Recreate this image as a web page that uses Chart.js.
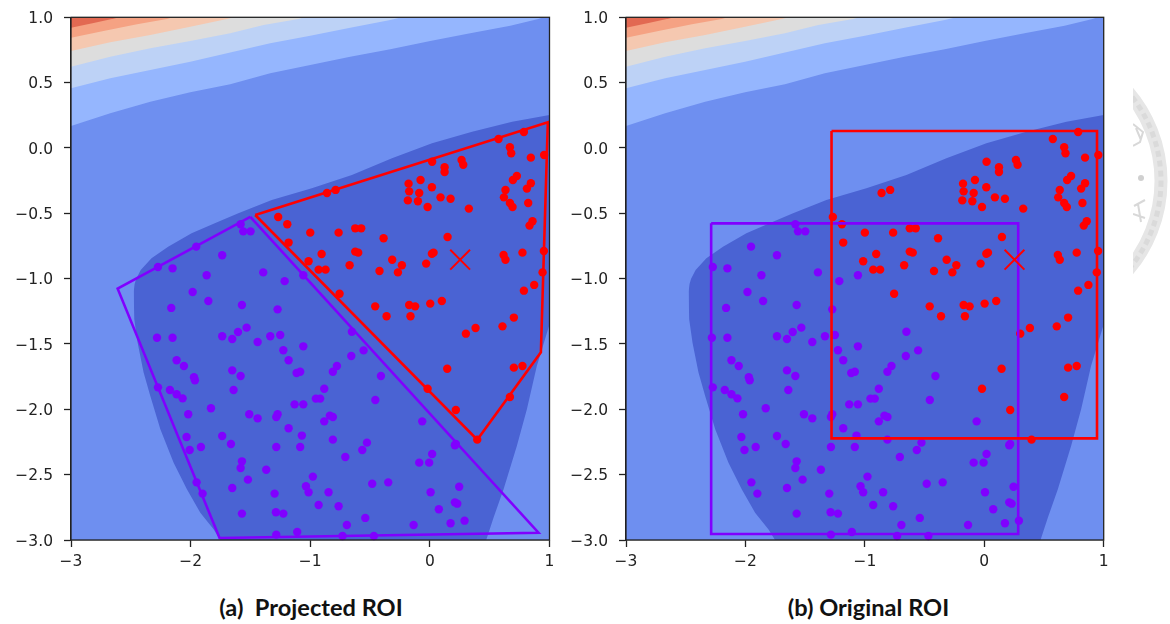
<!DOCTYPE html>
<html>
<head>
<meta charset="utf-8">
<title>ROI</title>
<script src="https://cdn.jsdelivr.net/npm/chart.js@4/dist/chart.umd.min.js"></script>
<style>
  html, body { margin: 0; padding: 0; background: #fff; overflow: hidden; }
  body { width: 1170px; height: 624px; position: relative; }
  canvas { position: absolute; top: 0; }
  #left { left: 0; }
  #right { left: 555px; }
  .caption { position: absolute; top: 593px; font: bold 23.6px Lato, sans-serif; color: #111; width: 400px; text-align: center; white-space: pre; }
  #seal { position: absolute; left: 1133px; top: 80px; }
</style>
</head>
<body>
<canvas id="left" width="560" height="570"></canvas>
<canvas id="right" width="560" height="570"></canvas>
<div class="caption" style="left:111px">(a)  Projected ROI</div>
<div class="caption" style="left:668.5px">(b) Original ROI</div>
<svg id="seal" width="37" height="200" viewBox="1133 80 37 200">
  <circle cx="1024" cy="181" r="137" fill="none" stroke="#e6e6e6" stroke-width="13"/>
  <circle cx="1024" cy="181" r="137" fill="none" stroke="#dadada" stroke-width="5" stroke-dasharray="6 4"/>
  <circle cx="1141" cy="178" r="3" fill="#d0d0d0"/>
  <path d="M1133 124l10 8-3 10-7 4M1136 128l5 12M1134 206l11-6M1133 214l12 4M1138 204l3 18" fill="none" stroke="#d8d8d8" stroke-width="2"/>
</svg>
<script>
const xTicks = [-3, -2, -1, 0, 1];
const yTicks = [1, 0.5, 0, -0.5, -1, -1.5, -2, -2.5, -3];

const redPoints = [
  [-1.268,-0.528],[-1.192,-0.584],[-1.000,-0.648],[-0.763,-0.648],[-0.624,-0.615],[-0.574,-0.615],
  [-0.387,-0.691],[0.148,-0.681],[-1.181,-0.724],[-0.905,-0.811],[-1.014,-0.867],[-0.930,-0.931],
  [-0.872,-0.931],[-0.671,-0.898],[-0.624,-0.793],[-0.599,-0.801],[-0.421,-0.941],[-0.315,-0.855],
  [-0.234,-0.898],[-0.267,-0.952],[-0.031,-0.885],[0.017,-0.809],[0.031,-0.801],[0.616,-0.819],
  [0.632,-0.855],[0.774,-0.801],[0.953,-0.788],[0.942,-0.952],[0.872,-1.048],[0.786,-1.092],
  [-0.860,-0.344],[-0.788,-0.321],[0.019,-0.105],[0.123,-0.148],[0.123,-0.184],[0.265,-0.092],
  [0.279,-0.128],[-0.178,-0.273],[-0.078,-0.245],[-0.173,-0.332],[-0.089,-0.344],[0.017,-0.301],
  [-0.184,-0.401],[-0.100,-0.408],[0.089,-0.378],[0.173,-0.388],[-0.019,-0.452],[0.326,-0.464],
  [0.574,0.069],[0.786,0.122],[0.669,0.005],[0.680,-0.041],[0.844,-0.074],[0.955,-0.054],
  [0.727,-0.214],[0.694,-0.245],[0.844,-0.270],[0.811,-0.311],[0.632,-0.321],[0.619,-0.378],
  [0.669,-0.421],[0.691,-0.452],[0.822,-0.421],[0.858,-0.561],[0.833,-0.594],
  [-0.755,-1.115],[-0.457,-1.212],[-0.173,-1.202],[-0.123,-1.212],[0.003,-1.191],[0.100,-1.171],
  [-0.362,-1.288],[-0.162,-1.288],[0.301,-1.421],[0.382,-1.378],[0.607,-1.365],[0.702,-1.298],
  [0.145,-1.689],[0.702,-1.681],[0.774,-1.668],[-0.019,-1.842],[0.669,-1.906],[0.217,-2.005],
  [0.396,-2.232]
];

const purplePoints = [
  [-1.582,-0.584],[-1.560,-0.638],[-1.499,-0.638],[-1.953,-0.755],[-1.736,-0.821],[-2.273,-0.911],
  [-2.151,-0.921],[-1.866,-0.974],[-1.393,-0.952],[-1.214,-1.019],[-1.058,-0.974],[-1.983,-1.102],
  [-1.852,-1.171],[-2.162,-1.224],[-1.571,-1.202],[-1.273,-1.235],[-0.652,-1.406],[-2.281,-1.452],
  [-2.151,-1.452],[-1.736,-1.441],[-1.652,-1.462],[-1.604,-1.408],[-1.532,-1.375],[-1.440,-1.485],
  [-1.334,-1.441],[-1.251,-1.431],[-1.058,-1.518],[-1.225,-1.548],[-1.181,-1.625],[-0.554,-1.549],
  [-0.657,-1.592],[-2.117,-1.625],[-2.056,-1.669],[-1.652,-1.702],[-1.582,-1.745],[-1.114,-1.722],
  [-1.084,-1.712],[-0.777,-1.668],[-0.811,-1.712],[-0.409,-1.745],[-1.972,-1.755],[-1.964,-1.778],
  [-2.273,-1.832],[-2.173,-1.852],[-2.117,-1.885],[-2.067,-1.916],[-1.641,-1.852],[-0.883,-1.842],
  [-0.953,-1.918],[-0.917,-1.918],[-0.456,-1.929],[-1.830,-1.992],[-1.131,-1.962],[-1.058,-1.962],
  [-2.020,-2.038],[-1.510,-2.038],[-1.440,-2.069],[-1.273,-2.038],[-1.284,-2.059],[-0.836,-2.048],
  [-0.811,-2.059],[-0.883,-2.092],[-0.064,-2.092],[-1.181,-2.145],[-2.034,-2.212],[-1.736,-2.204],
  [-1.070,-2.201],[-1.663,-2.265],[-0.811,-2.232],[-0.526,-2.255],[-1.914,-2.288],[-2.008,-2.311],
  [-1.284,-2.288],[-1.084,-2.288],[-0.565,-2.311],[0.217,-2.265],[0.209,-2.275],[-0.707,-2.365],
  [0.019,-2.342],[-1.571,-2.398],[-1.582,-2.449],[-1.368,-2.462],[-0.089,-2.408],[-0.006,-2.408],
  [-0.978,-2.515],[-1.521,-2.538],[-1.950,-2.559],[-0.348,-2.559],[-0.482,-2.569],[-1.036,-2.589],
  [-1.652,-2.602],[0.245,-2.592],[-1.900,-2.645],[-1.014,-2.635],[-1.298,-2.645],[-0.847,-2.635],
  [0.006,-2.635],[-0.930,-2.732],[-0.763,-2.742],[0.209,-2.712],[0.229,-2.722],[0.075,-2.765],
  [-1.571,-2.798],[-1.287,-2.788],[-1.225,-2.798],[-0.540,-2.831],[0.290,-2.852],[-0.694,-2.885],
  [-0.136,-2.885],[0.173,-2.872],[-1.109,-2.939],[-1.284,-2.959],[-0.730,-2.969],[-0.468,-2.969]
];

const centerMark = [[0.253, -0.855]];

const projectedRed = [[-1.460,-0.513],[0.986,0.196],[0.928,-1.564],[0.396,-2.232],[-1.460,-0.513]];
const projectedPurple = [[-1.501,-0.528],[0.908,-2.944],[-1.758,-2.985],[-2.610,-1.077],[-1.501,-0.528]];
const originalRed = [[-1.279,0.13],[0.944,0.13],[0.944,-2.222],[-1.279,-2.222],[-1.279,0.13]];
const originalPurple = [[-2.287,-0.577],[0.284,-0.577],[0.284,-2.954],[-2.287,-2.954],[-2.287,-0.577]];

// contour levels, each one read as a curve, everything above it gets the colour
const baseLine = [[-3,-3],[1,-3]];
const level1 = [[-3,0.168],[-2.672,0.265],[-2.337,0.354],[-2.003,0.426],[-1.669,0.487],[-1.335,0.572],[-1.0,0.635],[-0.666,0.699],[-0.331,0.755],[0.003,0.819],[0.337,0.878],[0.672,0.936],[0.906,0.987],[0.947,1]];
const level2 = [[-3,0.457],[-2.672,0.533],[-2.337,0.597],[-2.003,0.660],[-1.669,0.73],[-1.335,0.801],[-1.0,0.859],[-0.666,0.920],[-0.331,0.979],[-0.234,1]];
const level3 = [[-3,0.622],[-2.672,0.699],[-2.337,0.763],[-2.003,0.819],[-1.669,0.878],[-1.390,0.941],[-1.098,0.987],[-1.05,1]];
const level4 = [[-3,0.742],[-2.672,0.809],[-2.337,0.865],[-2.003,0.928],[-1.696,0.987],[-1.64,1]];
const level5 = [[-3,0.844],[-2.728,0.895],[-2.448,0.946],[-2.198,0.987],[-2.15,1]];
const level6 = [[-3,0.920],[-2.811,0.956],[-2.630,0.992],[-2.60,1]];
const levelColors = ['#6e8ff0', '#95b6fe', '#bdd2f6', '#dddddd', '#f5c8b0', '#f5a283', '#e26952'];

// darkest region, upper and lower edge
const lowUpper = [[-2.476,-1.10],[-2.468,-1.04],[-2.455,-1.0],[-2.417,-0.933],[-2.327,-0.844],[-2.188,-0.755],[-1.992,-0.653],[-1.769,-0.564],[-1.601,-0.5],[-1.322,-0.398],[-0.987,-0.308],[-0.652,-0.207],[-0.317,-0.079],[0.018,0.036],[0.353,0.125],[0.688,0.201],[1,0.252]];
const lowLower = [[-2.476,-1.10],[-2.471,-1.311],[-2.443,-1.490],[-2.393,-1.719],[-2.337,-1.898],[-2.253,-2.153],[-2.142,-2.408],[-2.031,-2.612],[-1.919,-2.791],[-1.808,-2.918],[-1.752,-3],[0.471,-3],[0.532,-2.829],[0.616,-2.612],[0.727,-2.281],[0.811,-2.0],[0.894,-1.668],[1,-1.35]];
const lowColor = '#4a63d3';

const xy = (list) => list.map((p) => ({ x: p[0], y: p[1] }));
const minus = (s) => s.replace('-', '\u2212');

function area(list, color) {
  return { data: xy(list), showLine: true, pointRadius: 0, borderWidth: 0, backgroundColor: color, fill: 'end', tension: 0 };
}

function roi(list, color) {
  return { data: xy(list), showLine: true, pointRadius: 0, borderColor: color, borderWidth: 2.6, fill: false, tension: 0, clip: false };
}

function dots(list, color) {
  return { data: xy(list), pointRadius: 4.2, pointBorderWidth: 0, pointBackgroundColor: color, clip: false };
}

// frame around the plot, chart.js only draws the left and bottom axis lines
const frame = {
  id: 'frame',
  afterDatasetsDraw(chart) {
    const { ctx, chartArea: a } = chart;
    ctx.save();
    ctx.strokeStyle = '#222';
    ctx.lineWidth = 1.3;
    ctx.strokeRect(a.left, a.top, a.right - a.left, a.bottom - a.top);
    ctx.restore();
  }
};

function makeChart(id, redRoi, purpleRoi, padRight) {
  const tickFont = { family: 'DejaVu Sans', size: 15.5 };
  return new Chart(document.getElementById(id), {
    type: 'scatter',
    data: {
      datasets: [
        { data: xy(centerMark), pointStyle: 'crossRot', pointRadius: 14, pointBorderWidth: 2, pointBorderColor: '#ff0000' },
        roi(redRoi, '#ff0000'),
        roi(purpleRoi, '#8000ff'),
        dots(purplePoints, '#8000ff'),
        dots(redPoints, '#ff0000'),
        area(level6, levelColors[6]),
        area(level5, levelColors[5]),
        area(level4, levelColors[4]),
        area(level3, levelColors[3]),
        area(level2, levelColors[2]),
        area(level1, levelColors[1]),
        { data: xy(lowUpper), showLine: true, pointRadius: 0, borderWidth: 0, backgroundColor: lowColor, fill: '+1', tension: 0 },
        { data: xy(lowLower), showLine: true, pointRadius: 0, borderWidth: 0, fill: false, tension: 0 },
        area(baseLine, levelColors[0])
      ]
    },
    options: {
      responsive: false,
      animation: false,
      events: [],
      layout: { autoPadding: false, padding: { top: 17.3, right: padRight, left: 0, bottom: 0 } },
      plugins: { legend: { display: false }, tooltip: { enabled: false } },
      scales: {
        x: {
          type: 'linear', min: -3, max: 1,
          afterBuildTicks: (s) => { s.ticks = xTicks.map((v) => ({ value: v })); },
          afterFit: (s) => { s.height = 30; s.paddingLeft = 0; s.paddingRight = 0; },
          grid: { drawOnChartArea: false, tickLength: 7, tickColor: '#222', tickWidth: 1.3 },
          border: { color: '#222', width: 1.3 },
          ticks: { font: tickFont, color: '#222', padding: 6, maxRotation: 0, callback: (v) => minus(String(v)) }
        },
        y: {
          type: 'linear', min: -3, max: 1,
          afterBuildTicks: (s) => { s.ticks = yTicks.map((v) => ({ value: v })); },
          afterFit: (s) => { s.width = 71; s.paddingTop = 0; s.paddingBottom = 0; },
          grid: { drawOnChartArea: false, tickLength: 7, tickColor: '#222', tickWidth: 1.3 },
          border: { color: '#222', width: 1.3 },
          ticks: { font: tickFont, color: '#222', padding: 11, labelOffset: 1.5, callback: (v) => minus(v.toFixed(1)) }
        }
      }
    },
    plugins: [frame]
  });
}

makeChart('left', projectedRed, projectedPurple, 10.5);
makeChart('right', originalRed, originalPurple, 11.3);
</script>
</body>
</html>
